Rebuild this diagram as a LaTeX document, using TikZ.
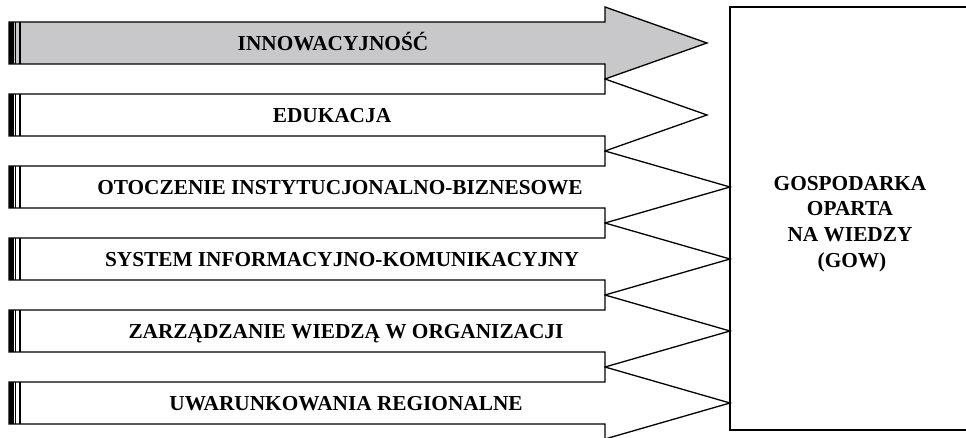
\documentclass[tikz,border=0pt]{standalone}
\usepackage{fontspec}
\setmainfont{Liberation Serif}
\definecolor{bargray}{RGB}{200,200,202}
\tikzset{
  bar/.style={draw, line width=1.3pt, line join=miter},
  lbl/.style={font=\bfseries\fontsize{21.3}{25.5}\selectfont, inner sep=0pt, anchor=base},
}
\begin{document}
\begin{tikzpicture}[x=1pt,y=-1pt]
  \useasboundingbox (0,0) rectangle (966,438);
  \clip (0,0) rectangle (966,438);
  % arrows: centre / tip / fill
  \foreach \c/\t/\f in {403/730/white,331/730/white,259/730/white,187/730/white,115/707/white,43/707/bargray}{
    \draw[bar, fill=\f] (9,\c-21) -- (605,\c-21) -- (605,\c-36) -- (\t,\c)
      -- (605,\c+36) -- (605,\c+21) -- (9,\c+21) -- cycle;
    \fill (9,\c-21) rectangle (13.5,\c+21);
    \draw[line width=0.8pt] (15.8,\c-21) -- (15.8,\c+21);
    \draw[line width=1.3pt] (20,\c-21) -- (20,\c+21);
  }
  \node[lbl] (inn) at (333,50.5) {INNOWACYJNOŚĆ};
  \node[lbl] (edu) at (332,122.5) {EDUKACJA};
  \node[lbl] (oto) at (340,194.5) {OTOCZENIE INSTYTUCJONALNO-BIZNESOWE};
  \node[lbl] (sys) at (342,266.5) {SYSTEM INFORMACYJNO-KOMUNIKACYJNY};
  \node[lbl] (zar) at (346,338.5) {ZARZĄDZANIE WIEDZĄ W ORGANIZACJI};
  \node[lbl] (uwa) at (346,410.5) {UWARUNKOWANIA REGIONALNE};
  % target box
  \node[draw, line width=1.3pt, minimum width=240pt, minimum height=423pt, inner sep=0pt] (gow) at (850,218.5) {};
  \node[align=center, inner sep=0pt, font=\bfseries\fontsize{21.3}{25.7}\selectfont] (gowtxt) at (850,224)
        {GOSPODARKA\\OPARTA\\NA WIEDZY\hspace{5pt}\\\hspace{4pt}(GOW)};
\end{tikzpicture}
\end{document}
